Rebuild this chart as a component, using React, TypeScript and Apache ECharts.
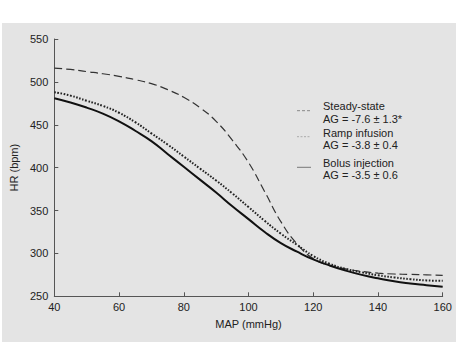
import React, { useEffect, useRef } from "react";
import * as echarts from "echarts";

const mapValues = [40, 45, 50, 55, 60, 65, 70, 75, 80, 85, 90, 95, 100, 105, 110, 115, 120, 125, 130, 135, 140, 145, 150, 155, 160];
const steadyState = [516, 514.5, 512, 509.5, 506.5, 502.5, 498, 491, 482, 470, 454, 432, 406, 372, 337, 311, 294, 286, 282, 279, 277, 276, 275.5, 275, 274.5];
const rampInfusion = [488, 484, 478, 472, 464, 453, 440, 427, 413, 399, 385, 370, 354, 338, 323, 310, 297, 288, 282, 278, 274.5, 272, 270, 268.5, 268];
const bolusInjection = [481, 476, 470, 463, 454, 443, 431, 416, 401, 386, 371, 355, 340, 325, 312, 302, 293, 286, 280, 275, 271, 267.5, 265, 263, 261];
const legendTitles = ["Steady-state", "Ramp infusion", "Bolus injection"];
const legendStats = ["AG = -7.6 ± 1.3*", "AG = -3.8 ± 0.4", "AG = -3.5 ± 0.6"];

const pairs = (ys: number[]) => mapValues.map((x, i) => [x, ys[i]]);

export default function App() {
  const ref = useRef<HTMLDivElement>(null);
  useEffect(() => {
    if (!ref.current) return;
    const chart = echarts.init(ref.current, null, { renderer: "svg" });
    const font = "Liberation Sans, Arial, sans-serif";
    const txt = (x: number, y: number, s: string) => ({
      type: "text",
      x,
      y,
      z: 10,
      style: { text: s, fontSize: 11, fontFamily: font, fill: "#222", textVerticalAlign: "middle" },
    });
    const sample = (y: number, stroke: string, dash?: number[]) => ({
      type: "line",
      z: 10,
      shape: { x1: 297, y1: y, x2: 311, y2: y },
      style: { stroke, lineWidth: 1, lineDash: dash },
    });
    chart.setOption({
      animation: false,
      backgroundColor: "#ffffff",
      grid: { left: 54.3, right: 16.3, top: 39, bottom: 47.7 },
      xAxis: {
        type: "value",
        min: 40,
        max: 160,
        interval: 20,
        name: "MAP (mmHg)",
        nameLocation: "middle",
        nameGap: 22,
        nameTextStyle: { fontSize: 11, fontFamily: font, color: "#222" },
        axisLine: { show: true, lineStyle: { color: "#555", width: 1 } },
        axisTick: { show: true, inside: true, length: 4, lineStyle: { color: "#555" } },
        axisLabel: { fontSize: 11, fontFamily: font, color: "#222", margin: 5 },
        splitLine: { show: false },
        z: 5,
      },
      yAxis: {
        type: "value",
        min: 250,
        max: 550,
        interval: 50,
        name: "HR (bpm)",
        nameLocation: "middle",
        nameGap: 27,
        nameTextStyle: { fontSize: 11, fontFamily: font, color: "#222" },
        axisLine: { show: true, lineStyle: { color: "#555", width: 1 } },
        axisTick: { show: true, inside: true, length: 4, lineStyle: { color: "#555" } },
        axisLabel: { fontSize: 11, fontFamily: font, color: "#222", margin: 6 },
        splitLine: { show: false },
        z: 5,
      },
      graphic: [
        {
          type: "rect",
          z: 0,
          silent: true,
          shape: { x: 2, y: 23, width: 454, height: 319 },
          style: { fill: "#e4e4e4" },
        },
        sample(110.7, "#888", [3, 2]),
        sample(136.7, "#aaa", [2, 1.5]),
        sample(167.3, "#777"),
        txt(323, 106, legendTitles[0]),
        txt(323, 119, legendStats[0]),
        txt(323, 133, legendTitles[1]),
        txt(323, 145, legendStats[1]),
        txt(323, 163, legendTitles[2]),
        txt(323, 175, legendStats[2]),
      ],
      series: [
        {
          type: "line",
          name: legendTitles[0],
          data: pairs(steadyState),
          smooth: true,
          showSymbol: false,
          z: 6,
          lineStyle: { color: "#333", width: 1.2, type: [8, 4] },
        },
        {
          type: "line",
          name: legendTitles[1],
          data: pairs(rampInfusion),
          smooth: true,
          showSymbol: false,
          z: 6,
          lineStyle: { color: "#222", width: 2, type: [1.6, 1.6] },
        },
        {
          type: "line",
          name: legendTitles[2],
          data: pairs(bolusInjection),
          smooth: true,
          showSymbol: false,
          z: 6,
          lineStyle: { color: "#111", width: 2 },
        },
      ],
    });
    return () => chart.dispose();
  }, []);
  return <div ref={ref} style={{ position: "fixed", left: 0, top: 0, width: 459, height: 344 }} />;
}
